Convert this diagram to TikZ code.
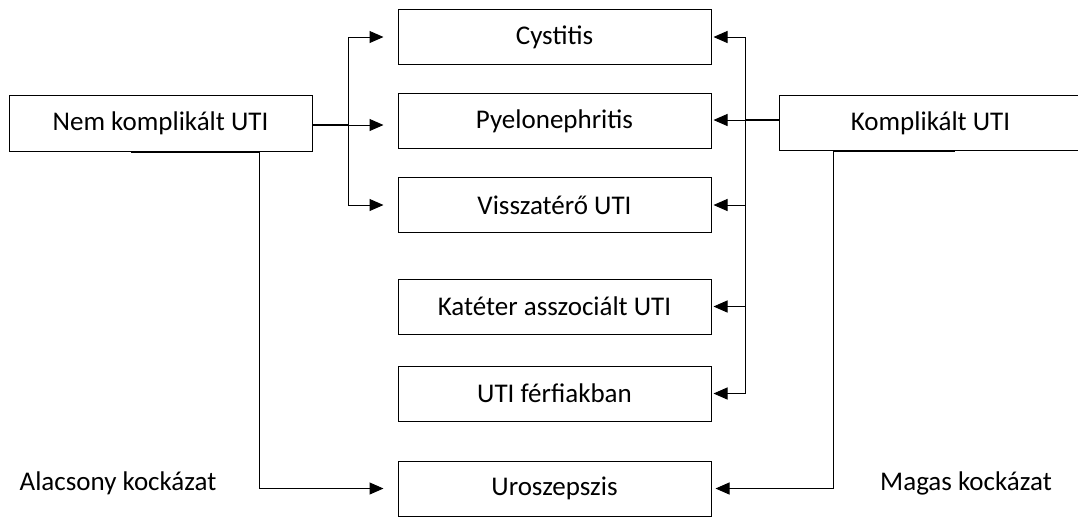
\documentclass[tikz,border=0pt]{standalone}
\usepackage{fontspec}
\setmainfont{Carlito}
\usetikzlibrary{arrows.meta}

\begin{document}
\begin{tikzpicture}[x=0.5pt,y=-0.5pt,
		box/.style={draw, line width=0.5pt, inner sep=0pt, minimum height=27.5pt, font=\fontsize{13.5}{16}\selectfont},
		midbox/.style={box, minimum width=156.5pt},
		lbl/.style={font=\fontsize{13.5}{16}\selectfont},
		arr/.style={line width=0.5pt, -{Triangle[length=7pt,width=6pt]}}]
	\useasboundingbox (0,0) rectangle (1078,516);
	% middle column
	\node[midbox] (cys) at (554.5,37) {Cystitis};
	\node[midbox] (pye) at (554.5,121) {Pyelonephritis};
	\node[midbox] (vis) at (554.5,205) {Visszatérő UTI};
	\node[midbox] (kat) at (554.5,306.5) {Katéter asszociált UTI};
	\node[midbox] (fer) at (554.5,393.5) {UTI férfiakban};
	\node[midbox] (uro) at (554.5,488.5) {Uroszepszis};
	% sides
	\node[box, minimum width=151.5pt, minimum height=28pt] (nem) at (160.5,123.5) {Nem komplikált UTI};
	\node[box, minimum width=151pt] (kom) at (930.5,123) {Komplikált UTI};
	\node[lbl] (alacs) at (118,483) {Alacsony kockázat};
	\node[lbl] (magas) at (966,483) {Magas kockázat};
	% left branches
	\coordinate (lj) at (348,125);
	\draw[line width=0.8pt] (nem.east |- lj) -- (lj);
	\draw[arr, shorten >=7pt] (lj) -- (lj -| pye.west);
	\draw[arr, shorten >=7pt] (lj) |- (cys.west);
	\draw[arr, shorten >=7pt] (lj) |- (vis.west);
	\coordinate (lb) at (259,151);
	\draw[line width=1pt] ([xshift=-15pt]nem.south) -- (nem.south -| lb);
	\draw[arr, shorten >=7pt] (nem.south -| lb) |- (uro.west);
	% right branches
	\coordinate (rj) at (745,120);
	\draw[line width=1pt] (kom.west |- rj) -- (rj);
	\draw[arr, shorten >=1pt] (rj) -- (rj -| pye.east);
	\draw[arr, shorten >=1pt] (rj) |- (cys.east);
	\draw[arr, shorten >=1pt] (rj) |- (vis.east);
	\draw[arr, shorten >=1pt] (rj) |- (kat.east);
	\draw[arr, shorten >=1pt] (rj) |- (fer.east);
	\coordinate (rb) at (833,150);
	\draw[line width=1pt] (kom.south -| rb) -- ([xshift=12pt]kom.south);
	\draw[arr, shorten >=2pt] (kom.south -| rb) |- (uro.east);
\end{tikzpicture}
\end{document}
